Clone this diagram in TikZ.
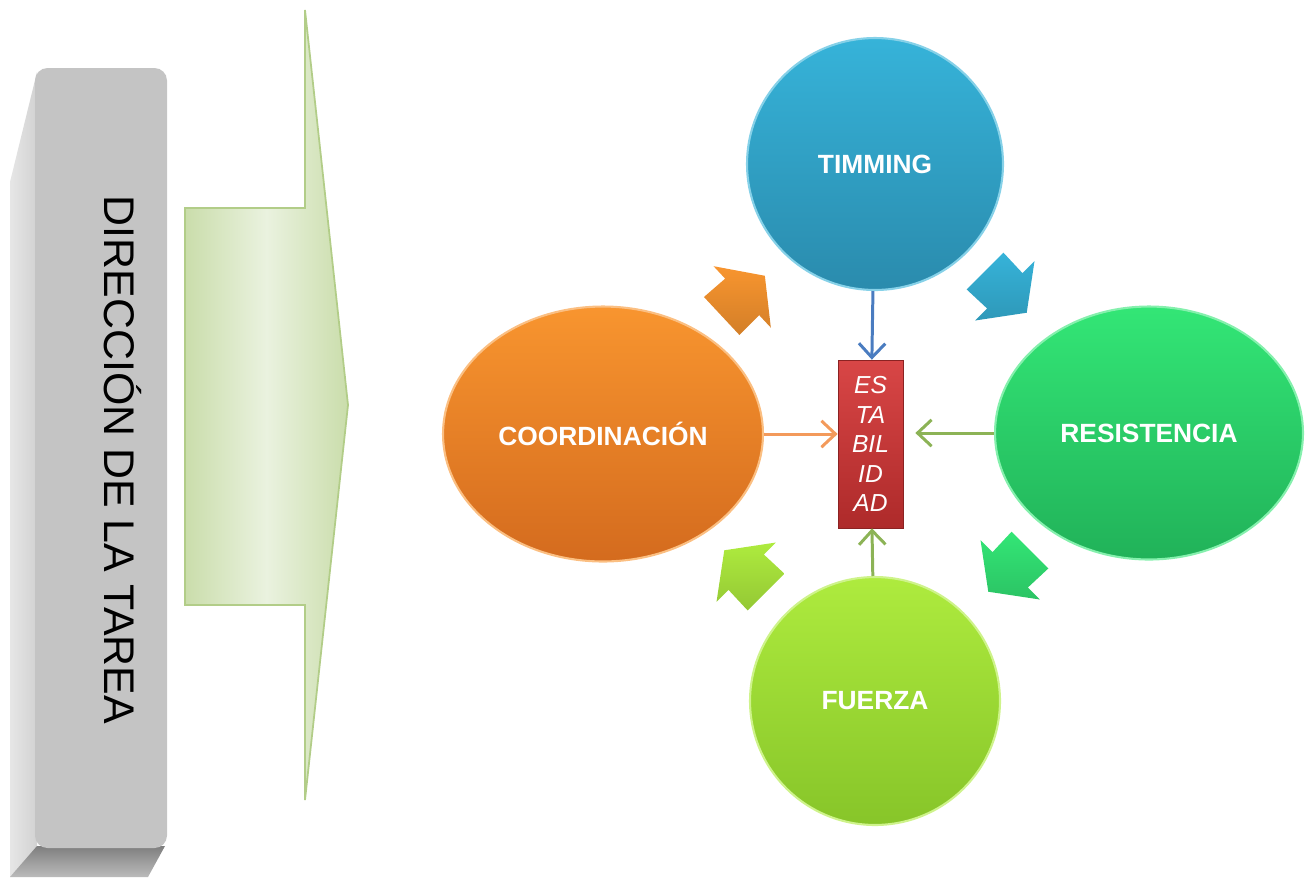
\documentclass[tikz,border=0pt]{standalone}
\usepackage{fontspec}
\setmainfont{Liberation Sans}
\usetikzlibrary{shapes.geometric,arrows.meta}

\definecolor{barfront}{HTML}{C4C4C4}
\definecolor{barsideA}{HTML}{E6E6E6}
\definecolor{barsideB}{HTML}{D2D2D2}
\definecolor{barbottom}{HTML}{9E9E9E}
\definecolor{flechaA}{HTML}{EAF2DF}
\definecolor{flechaB}{HTML}{CADDAB}
\definecolor{flechaC}{HTML}{B2CD88}
\definecolor{timA}{HTML}{36B3D9}
\definecolor{timB}{HTML}{2A8BAD}
\definecolor{corA}{HTML}{F8952F}
\definecolor{corB}{HTML}{D46B1E}
\definecolor{resA}{HTML}{33E676}
\definecolor{resB}{HTML}{21B259}
\definecolor{fueA}{HTML}{AEEB3E}
\definecolor{fueB}{HTML}{87C529}
\definecolor{estA}{HTML}{D84646}
\definecolor{estB}{HTML}{AE2A2A}
\definecolor{lineblue}{HTML}{4A7CC0}
\definecolor{lineorange}{HTML}{F39A5B}
\definecolor{lineolive}{HTML}{8CB356}

\tikzset{
  bubble/.style={ellipse, inner sep=0pt, text=white, line width=1.2pt,
    font=\bfseries\fontsize{15}{18}\selectfont},
  conn/.style={line width=1.7pt, -{Straight Barb[length=8pt,width=15pt]}},
}

\begin{document}
\begin{tikzpicture}[x=0.02cm,y=-0.02cm]
  \useasboundingbox (0,0) rectangle (1312,877);
  % barra gris
  \shade[left color=barsideA, right color=barsideB]
    (10,182) -- (37,72) -- (37,850) -- (10,877) -- cycle;
  \shade[top color=barbottom!80!black, bottom color=barbottom!70!white]
    (10,877) -- (37,846) -- (165,846) -- (148,877) -- cycle;
  \fill[barfront, rounded corners=0.25cm] (35,68) rectangle (167,848);
  \node[rotate=-90, font=\fontsize{24.4}{28}\selectfont] (tarea) at (123,460)
    {DIRECCIÓN DE LA TAREA};
  % flecha verde
  \shade[left color=flechaB, right color=flechaB, middle color=flechaA,
    draw=flechaC, line width=1pt]
    (185,208) -- (305,208) -- (305,10) -- (348,405) -- (305,800)
    -- (305,605) -- (185,605) -- cycle;
  % ciclo
  \node[bubble, minimum width=5.12cm, minimum height=5.04cm,
    top color=timA, bottom color=timB, draw=timA!60!white] (timming) at (875,164) {TIMMING};
  \node[bubble, minimum width=6.4cm, minimum height=5.1cm,
    top color=corA, bottom color=corB, draw=corA!60!white] (coord) at (603,434) {COORDINACIÓN};
  \node[bubble, minimum width=6.16cm, minimum height=5.06cm,
    top color=resA, bottom color=resB, draw=resA!60!white] (resist) at (1149,433) {RESISTENCIA};
  \node[bubble, minimum width=5cm, minimum height=4.96cm,
    top color=fueA, bottom color=fueB, draw=fueA!60!white] (fuerza) at (875,701) {FUERZA};
  \node[draw=estB!80!black, top color=estA, bottom color=estB, text=white,
    minimum width=1.3cm, minimum height=3.36cm, inner sep=0pt, align=center,
    font=\itshape\fontsize{14}{16.8}\selectfont] (estab) at (870.5,444)
    {ES\\TA\\BIL\\ID\\AD};
  % flechas gruesas
  \foreach \ax/\ay/\ang/\col in {721.7/316/43/corA, 985/271/-45/timA,
      1030/550/-135/resA, 766/592/135/fueA}
    \shade[top color=\col, bottom color=\col!85!black, shift={(\ax,\ay)}, rotate=\ang]
      (0,-26) -- (28,-25) -- (28,-42) -- (59,0) -- (28,42) -- (28,25) -- (0,26) -- cycle;
  % conectores
  \draw[conn, lineblue] (timming) -- (estab);
  \draw[conn, lineorange] (coord.east) -- (estab.west |- coord.east);
  \draw[conn, lineolive, shorten >=0.24cm] (resist.west) -- (estab.east |- resist.west);
  \draw[conn, lineolive] (fuerza) -- (estab);
\end{tikzpicture}
\end{document}
